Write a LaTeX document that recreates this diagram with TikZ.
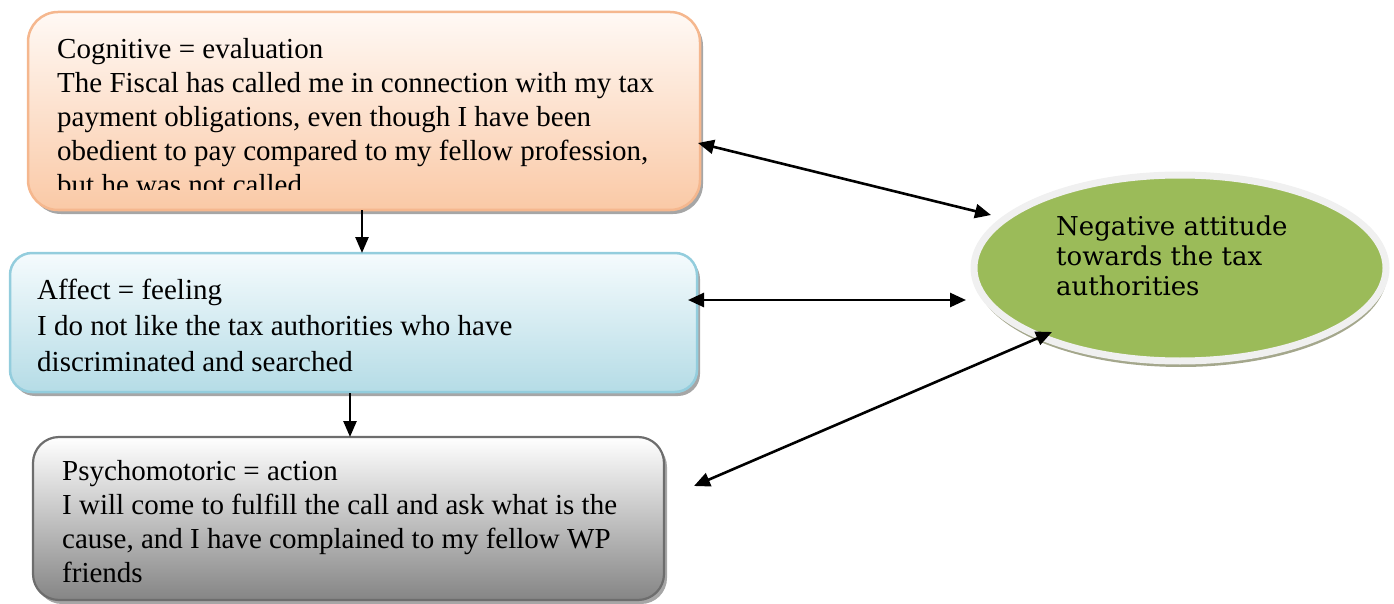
\documentclass[tikz,border=0pt]{standalone}
\usepackage{fontspec}
\setmainfont{Liberation Serif}
\newfontfamily\ellfont{DejaVu Serif}
\usetikzlibrary{shapes.geometric,shadows,arrows.meta}
\definecolor{orbd}{HTML}{F5B78E}
\definecolor{ortop}{HTML}{FFF9F5}
\definecolor{orbot}{HTML}{FAC9A6}
\definecolor{blbd}{HTML}{93CDDD}
\definecolor{bltop}{HTML}{F5FBFD}
\definecolor{blbot}{HTML}{B5DCE6}
\definecolor{grbd}{HTML}{6D6D6D}
\definecolor{grtop}{HTML}{FFFFFF}
\definecolor{grbot}{HTML}{858585}
\definecolor{elfill}{HTML}{9BBB59}
\definecolor{elbd}{HTML}{F0F0F0}
\definecolor{elsh}{HTML}{A4A78C}
\begin{document}
\begin{tikzpicture}[x=1pt,y=-1pt,
  box/.style={rectangle, anchor=north west, inner sep=0pt, outer sep=0pt,
    drop shadow={shadow xshift=3pt, shadow yshift=-4pt, opacity=0.35, fill=black}},
  txt/.style={anchor=north west, inner sep=0pt, align=left,
    font=\fontsize{29}{34}\selectfont},
  dbl/.style={line width=2.6pt, {Triangle[length=16pt,width=14pt]}-{Triangle[length=16pt,width=14pt]}},
  down/.style={line width=2.6pt, -{Triangle[length=16pt,width=13pt]}}]
\useasboundingbox (0,0) rectangle (1394,604);
% boxes
\node[box, rounded corners=30pt, minimum width=672pt, minimum height=198pt,
  draw=orbd, line width=2.5pt, top color=ortop, bottom color=orbot] (b1) at (28,12) {};
\node[box, rounded corners=22pt, minimum width=687pt, minimum height=139pt,
  draw=blbd, line width=2.5pt, top color=bltop, bottom color=blbot] (b2) at (10,253) {};
\node[box, rounded corners=26pt, minimum width=631pt, minimum height=163pt,
  draw=grbd, line width=2.2pt, top color=grtop, bottom color=grbot] (b3) at (33,437) {};
% texts
\begin{scope}
\clip (0,0) rectangle (1394,190);
\node[txt] (t1) at (57,38) {Cognitive = evaluation\\The Fiscal has called me in connection with my tax\\payment obligations, even though I have been\\obedient to pay compared to my fellow profession,\\but he was not called};
\end{scope}
\node[txt, font=\fontsize{29}{36}\selectfont] (t2) at (37,279) {Affect = feeling\\I do not like the tax authorities who have\\discriminated and searched};
\node[txt] (t3) at (62,460) {Psychomotoric = action\\I will come to fulfill the call and ask what is the\\cause, and I have complained to my fellow WP\\friends};
% ellipse
\node[ellipse, minimum width=412pt, minimum height=186pt, fill=elfill, draw=elbd,
  line width=7pt, drop shadow={shadow xshift=1pt, shadow yshift=-6pt, opacity=1, fill=elsh}] (e) at (1180,268) {};
\node[anchor=north west, inner sep=0pt, align=left,
  font=\ellfont\fontsize{26}{30}\selectfont] (et) at (1056,216) {Negative attitude\\towards the tax\\authorities};
% connector endpoints
\coordinate (a1s) at (698,143);
\coordinate (a1e) at (991,215);
\coordinate (a2s) at (688,300);
\coordinate (a2e) at (966,300);
\coordinate (a3s) at (694,486);
\coordinate (a3e) at (1052,332);
\coordinate (d1) at (362,210);
\coordinate (d2) at (350,393);
\draw[dbl] (a1s) -- (a1e);
\draw[dbl] (a2s) -- (a2e);
\draw[dbl] (a3s) -- (a3e);
\draw[down] (d1) -- (b2.north -| d1);
\draw[down] (d2) -- (b3.north -| d2);
\end{tikzpicture}
\end{document}
